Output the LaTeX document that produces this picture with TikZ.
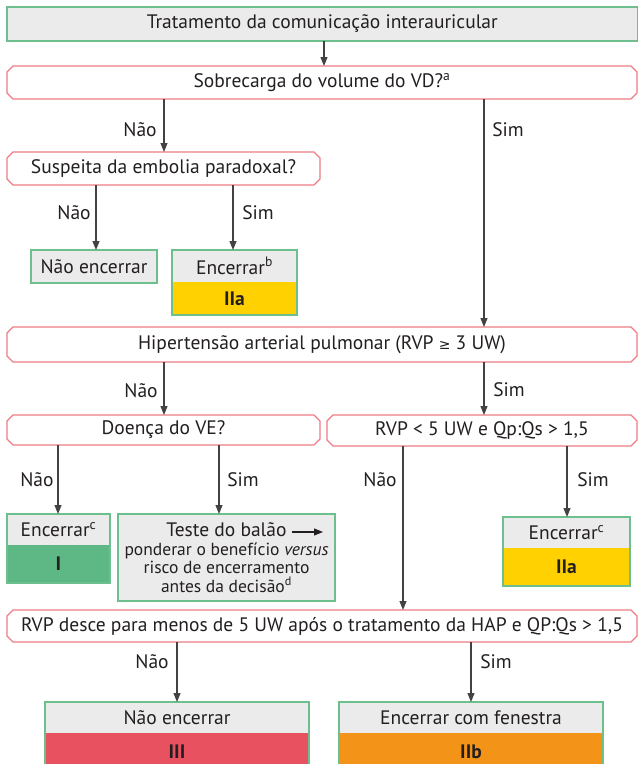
\documentclass[tikz,border=0pt]{standalone}
\usepackage{fontspec}
\setmainfont{PT Sans}
\newfontfamily\symfont{DejaVu Sans}
\usetikzlibrary{arrows.meta}
\definecolor{gborder}{HTML}{6DC08E}
\definecolor{gfill}{HTML}{EBEBEB}
\definecolor{rborder}{HTML}{EE7D85}
\definecolor{yel}{HTML}{FFD100}
\definecolor{grn}{HTML}{5DB886}
\definecolor{redc}{HTML}{E8515F}
\definecolor{orng}{HTML}{F39418}
\definecolor{txt}{HTML}{231F20}
\newcommand\place[7]{\node[#1, minimum width={#5-#3}, minimum height={#6-#4}] (#2) at ({(#3+#5)/2},{(#4+#6)/2}) {#7};}
\newcommand\octo[1]{\draw[qline] ([xshift=6pt]#1.north west) -- ([xshift=-6pt]#1.north east) -- ([yshift=-6pt]#1.north east) -- ([yshift=6pt]#1.south east) -- ([xshift=-6pt]#1.south east) -- ([xshift=6pt]#1.south west) -- ([yshift=6pt]#1.south west) -- ([yshift=-6pt]#1.north west) -- cycle;}
\begin{document}
\begin{tikzpicture}[x=1pt,y=-1pt,
  font=\fontsize{19.5}{22}\selectfont, text=txt,
  base/.style={rectangle, inner sep=0pt, outer sep=0pt},
  gbox/.style={base, draw=gborder, fill=gfill, line width=1.2pt},
  gtop/.style={base, fill=gfill},
  qbox/.style={base},
  qline/.style={draw=rborder, line width=1.2pt, fill=white},
  gline/.style={draw=gborder, line width=1.2pt},
  arr/.style={draw=txt!85, line width=1.1pt, -{Triangle[length=9pt,width=7pt]}},
  lab/.style={inner sep=0pt, anchor=center}]
\useasboundingbox (0,0) rectangle (638,764);
\clip (0,0) rectangle (638,764);
\fill[white] (0,0) rectangle (638,764);

% decision boxes (drawn first as shape, text on top)
\place{qbox}{sob}{7}{66}{637}{99}{}
\octo{sob}
\node at (sob.center) {Sobrecarga do volume do VD?\textsuperscript{a}};
\place{qbox}{sus}{7}{152}{320}{185}{}
\octo{sus}
\node at (sus.center) {Suspeita da embolia paradoxal?};
\place{qbox}{hip}{7}{327}{637}{362}{}
\octo{hip}
\node at (hip.center) {Hipertensão arterial pulmonar (RVP {\symfont\fontsize{14}{16}\selectfont ≥} 3 UW)};
\place{qbox}{doe}{7}{415}{320}{445}{}
\octo{doe}
\node at (doe.center) {Doença do VE?};
\place{qbox}{rvp}{327}{415}{637}{446}{}
\octo{rvp}
\node at (rvp.center) {RVP < 5 UW e Qp:Qs > 1,5};
\place{qbox}{des}{7}{610}{637}{642}{}
\octo{des}
\node at (des.center) {RVP desce para menos de 5 UW após o tratamento da HAP e QP:Qs > 1,5};

% outcome boxes
\place{gbox}{top}{7}{7}{637.5}{41}{Tratamento da comunicação interauricular}
\place{gbox}{nenc1}{31}{250}{157}{283}{Não encerrar}

\place{gtop}{enc1t}{172}{250}{297}{282}{Encerrar\textsuperscript{b}}
\place{base,fill=yel}{enc1b}{172}{282}{297}{315}{\textbf{IIa}}
\draw[gline] (enc1t.north west) rectangle (enc1b.south east);

\place{gtop}{encIt}{7}{514}{110}{545}{Encerrar\textsuperscript{c}}
\place{base,fill=grn}{encIb}{7}{545}{110}{583}{\textbf{I}}
\draw[gline] (encIt.north west) rectangle (encIb.south east);

\place{gbox,align=center,font=\fontsize{17.5}{18.5}\selectfont}{teste}{118}{514}{335}{601}{{\fontsize{19.5}{20}\selectfont Teste do balão\hspace{30pt}}\\ponderar o benefício \textit{versus}\\risco de encerramento\\antes da decisão\textsuperscript{d}}
\draw[txt, line width=1.1pt, -{Triangle[length=9pt,width=7pt]}] ([shift={(174pt,-18pt)}]teste.north west) -- ([shift={(205pt,-18pt)}]teste.north west);

\place{gtop}{encIIat}{503}{517}{630}{548}{Encerrar\textsuperscript{c}}
\place{base,fill=yel}{encIIab}{503}{548}{630}{586}{\textbf{IIa}}
\draw[gline] (encIIat.north west) rectangle (encIIab.south east);

\place{gtop}{nenc2t}{45}{702}{309}{733}{Não encerrar}
\place{base,fill=redc}{nenc2b}{45}{733}{309}{771}{\textbf{III}}
\draw[gline] (nenc2t.north west) rectangle (nenc2b.south east);

\place{gtop}{fent}{339}{702}{603}{733}{Encerrar com fenestra}
\place{base,fill=orng}{fenb}{339}{733}{603}{771}{\textbf{IIb}}
\draw[gline] (fent.north west) rectangle (fenb.south east);

% arrow columns
\coordinate (x324) at (324,0);
\coordinate (x164) at (164,0);
\coordinate (x484) at (484,0);
\coordinate (x96) at (96,0);
\coordinate (x233) at (233,0);
\coordinate (x58) at (58,0);
\coordinate (x219) at (219,0);
\coordinate (x403) at (403,0);
\coordinate (x567) at (567,0);
\coordinate (x177) at (177,0);
\coordinate (x471) at (471,0);

\draw[arr] (top.south -| x324) -- (sob.north -| x324);
\draw[arr] (sob.south -| x164) -- (sus.north -| x164);
\draw[arr] (sob.south -| x484) -- (hip.north -| x484);
\draw[arr] (sus.south -| x96) -- (nenc1.north -| x96);
\draw[arr] (sus.south -| x233) -- (enc1t.north -| x233);
\draw[arr] (hip.south -| x164) -- (doe.north -| x164);
\draw[arr] (hip.south -| x484) -- (rvp.north -| x484);
\draw[arr] (doe.south -| x58) -- (encIt.north -| x58);
\draw[arr] (doe.south -| x219) -- (teste.north -| x219);
\draw[arr] (rvp.south -| x403) -- (des.north -| x403);
\draw[arr] (rvp.south -| x567) -- (encIIat.north -| x567);
\draw[arr] (des.south -| x177) -- (nenc2t.north -| x177);
\draw[arr] (des.south -| x471) -- (fent.north -| x471);

% labels
\node[lab] (l1) at (140,130) {Não};
\node[lab] (l2) at (508,130) {Sim};
\node[lab] (l3) at (74,213) {Não};
\node[lab] (l4) at (258,213) {Sim};
\node[lab] (l5) at (141,391) {Não};
\node[lab] (l6) at (509,390) {Sim};
\node[lab] (l7) at (37,480) {Não};
\node[lab] (l8) at (243,480) {Sim};
\node[lab] (l9) at (380,480) {Não};
\node[lab] (l10) at (593,480) {Sim};
\node[lab] (l11) at (152,662) {Não};
\node[lab] (l12) at (496,662) {Sim};
\end{tikzpicture}
\end{document}
